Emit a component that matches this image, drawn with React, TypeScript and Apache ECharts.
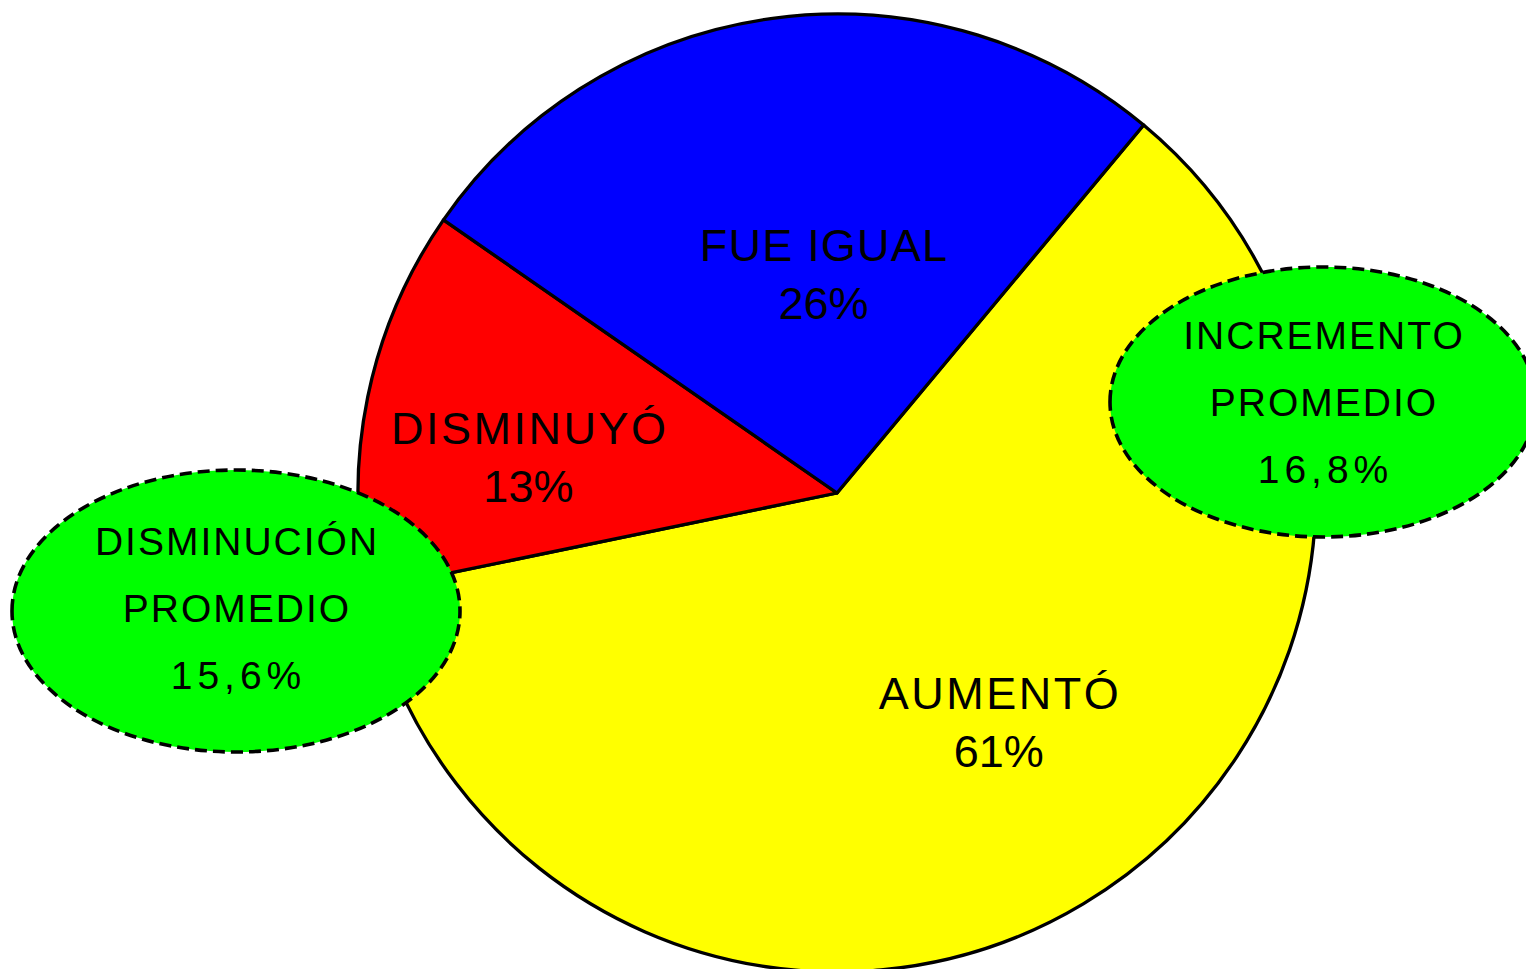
import React, { useEffect, useRef } from "react";
import * as echarts from "echarts";

const categories = ["AUMENTÓ", "DISMINUYÓ", "FUE IGUAL"];
const values = [60.7, 12.9, 26.4];
const sliceColors = ["#FFFF00", "#FF0000", "#0000FF"];
const labelOffsets = [
  [37, 22],
  [-71, 13],
  [19, 22],
];

const leftNoteLines = ["DISMINUCIÓN", "PROMEDIO", "15,6%"];
const rightNoteLines = ["INCREMENTO", "PROMEDIO", "16,8%"];

const FONT = "'Liberation Sans', Arial, Helvetica, sans-serif";

export default function App() {
  const ref = useRef<HTMLDivElement>(null);

  useEffect(() => {
    document.body.style.margin = "0";
    if (!ref.current) return;
    const chart = echarts.init(ref.current, null, { renderer: "svg" });

    const makeNote = (cx: number, cy: number, rx: number, ry: number, lines: string[], ty: number) => ({
      type: "group",
      z: 100,
      children: [
        {
          type: "ellipse",
          shape: { cx, cy, rx, ry },
          style: { fill: "#00FF00", stroke: "#000000", lineWidth: 3.6, lineDash: [12, 6] },
          z: 100,
        },
        {
          type: "text",
          z: 101,
          x: cx,
          y: ty,
          style: {
            text: lines.join("\n"),
            fill: "#000000",
            font: `39px ${FONT}`,
            fontSize: 39,
            fontFamily: FONT,
            lineHeight: 67,
            align: "center",
            verticalAlign: "middle",
            textAlign: "center",
            textVerticalAlign: "middle",
          },
        },
      ],
    });

    chart.setOption({
      animation: false,
      backgroundColor: "#ffffff",
      series: [
        {
          type: "pie",
          center: [837, 493],
          radius: 479,
          startAngle: 50.2,
          clockwise: true,
          silent: true,
          avoidLabelOverlap: false,
          itemStyle: { borderColor: "#000000", borderWidth: 3.3 },
          label: {
            show: true,
            position: "inside",
            color: "#000000",
            fontSize: 45,
            fontFamily: FONT,
            lineHeight: 58,
            formatter: (p: any) => `${p.name}\n${Math.round(p.value)}%`,
          },
          labelLine: { show: false },
          data: categories.map((name, i) => ({
            name,
            value: values[i],
            itemStyle: { color: sliceColors[i] },
            label: { offset: labelOffsets[i] },
          })),
        },
      ],
      graphic: [
        makeNote(236, 611, 224, 141, leftNoteLines, 608),
        makeNote(1323, 402, 213, 135, rightNoteLines, 402),
      ],
    });

    // letter spacing like the original (wide tracking)
    const noteLines = [...leftNoteLines, ...rightNoteLines];
    ref.current.querySelectorAll("text").forEach((el) => {
      const t = (el.textContent || "").trim();
      let ls = 0;
      if (noteLines.includes(t)) ls = /^[\d,%]+$/.test(t) ? 5 : 2;
      else if (categories.includes(t)) ls = t === "FUE IGUAL" ? 1.2 : 2.5;
      if (ls) {
        (el as SVGTextElement).style.letterSpacing = `${ls}px`;
        el.setAttribute("dx", String(ls / 2));
      }
    });

    return () => chart.dispose();
  }, []);

  return <div ref={ref} style={{ width: 1526, height: 969 }} />;
}
